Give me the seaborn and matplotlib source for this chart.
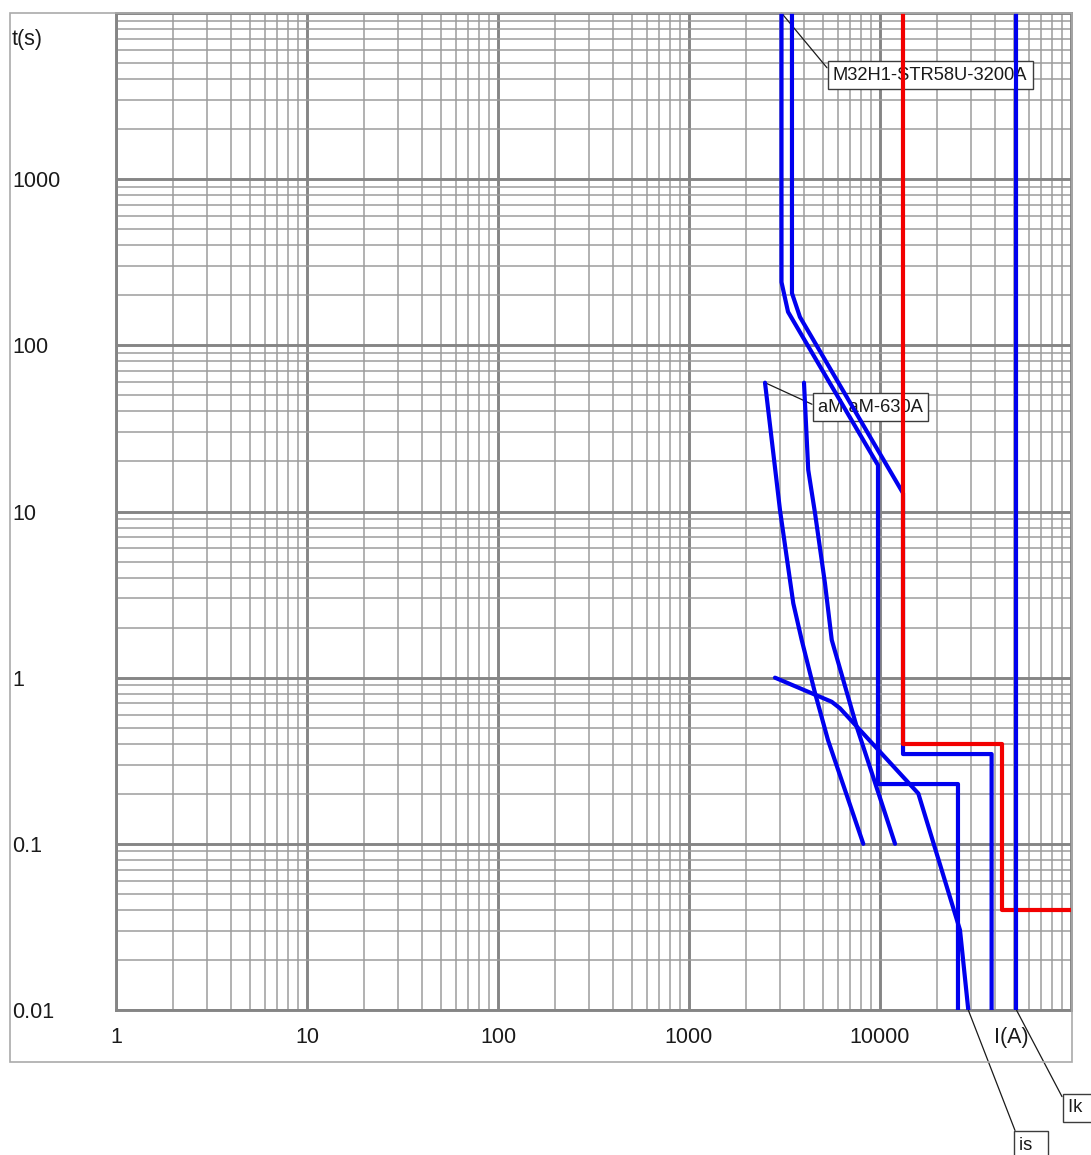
import numpy as np
import matplotlib
matplotlib.use("Agg")
import matplotlib.pyplot as plt
import seaborn as sns
from matplotlib.ticker import LogLocator, FixedLocator, FixedFormatter, NullFormatter
from matplotlib.patches import Rectangle

# ---------------- data (current I in A, time t in s) ----------------
breaker_lo_I = [3050, 3050, 3300, 9760, 9760, 25600, 25600]
breaker_lo_t = [10000, 240, 159, 19.0, 0.229, 0.229, 0.01]

breaker_hi_I = [3460, 3460, 3810, 13200, 13200, 38400, 38400]
breaker_hi_t = [10000, 206, 148, 12.9, 0.347, 0.347, 0.01]

fuse_lo_I = [2500, 2995, 3516, 3891, 4568, 5342, 8176]
fuse_lo_t = [59.6, 10.2, 2.80, 1.685, 0.809, 0.421, 0.100]

fuse_hi_I = [4000, 4210, 4570, 5150, 5590, 7550, 11990]
fuse_hi_t = [59.6, 17.8, 9.75, 3.70, 1.685, 0.507, 0.100]

is_I = [2820, 5585, 6175, 15870, 26230, 28990]
is_t = [1.0, 0.716, 0.654, 0.201, 0.0303, 0.01]

red_I = [13120, 13120, 43400, 43400, 100000]
red_t = [10000, 0.40, 0.40, 0.040, 0.040]

ik_I = [51800, 51800]
ik_t = [0.01, 10000]

x_ticks = [1, 10, 100, 1000, 10000]
x_labels = ["1", "10", "100", "1000", "10000"]
y_ticks = [0.01, 0.1, 1, 10, 100, 1000]
y_labels = ["0.01", "0.1", "1", "10", "100", "1000"]

# ---------------- style ----------------
sns.set_theme(style="white")
plt.rcParams["font.family"] = ["Liberation Sans", "DejaVu Sans"]

BLUE = "#0000ee"
RED = "#f20000"
MAJ = "#858585"
MIN = "#9c9c9c"
TXT = "#1a1a1a"
FS = 15.5

W, H = 1091, 1155
fig = plt.figure(figsize=(W / 100, H / 100), dpi=100)
fig.patch.set_facecolor("white")
ax = fig.add_axes([116 / W, 1 - 1010 / H, (1071 - 116) / W, (1010 - 13) / H])

# outer frame
fig.patches.append(Rectangle((10 / W, 1 - 1062 / H), (1072 - 10) / W, (1062 - 13) / H,
                             transform=fig.transFigure, fill=False, ec="#aaaaaa", lw=1.2, zorder=0))

ax.set_xscale("log")
ax.set_yscale("log")
ax.set_xlim(1, 1e5)
ax.set_ylim(0.01, 1e4)

ax.xaxis.set_major_locator(FixedLocator(x_ticks))
ax.xaxis.set_major_formatter(FixedFormatter(x_labels))
ax.yaxis.set_major_locator(FixedLocator(y_ticks))
ax.yaxis.set_major_formatter(FixedFormatter(y_labels))
ax.xaxis.set_minor_locator(LogLocator(base=10, subs=np.arange(2, 10), numticks=30))
ax.yaxis.set_minor_locator(LogLocator(base=10, subs=np.arange(2, 10), numticks=30))
ax.xaxis.set_minor_formatter(NullFormatter())
ax.yaxis.set_minor_formatter(NullFormatter())

ax.set_axisbelow(True)
ax.grid(which="major", color=MAJ, lw=2.1)
ax.grid(which="minor", color=MIN, lw=1.1)
for s in ax.spines.values():
    s.set_color(MAJ)
    s.set_linewidth(2.1)

ax.tick_params(which="both", length=0)
ax.tick_params(axis="x", pad=12, labelsize=FS, labelcolor=TXT)
ax.tick_params(axis="y", pad=74.9, labelsize=FS, labelcolor=TXT)
for lab in ax.get_yticklabels():
    lab.set_horizontalalignment("left")

# ---------------- curves ----------------
def draw(I, t, color, z):
    sns.lineplot(x=I, y=t, sort=False, estimator=None, color=color, lw=3.0,
                 ax=ax, legend=False, zorder=z)

draw(breaker_lo_I, breaker_lo_t, BLUE, 5)
draw(breaker_hi_I, breaker_hi_t, BLUE, 5)
draw(fuse_lo_I, fuse_lo_t, BLUE, 5)
draw(fuse_hi_I, fuse_hi_t, BLUE, 5)
draw(is_I, is_t, BLUE, 5)
draw(red_I, red_t, RED, 6)
draw(ik_I, ik_t, BLUE, 7)

ax.set_xlabel("")
ax.set_ylabel("")

# ---------------- labels ----------------
fig.text(12 / W, 1 - 39 / H, "t(s)", ha="left", va="center", fontsize=FS, color=TXT)
ax.annotate("I(A)", xy=(48500, 0.01), xycoords="data", xytext=(0, -12),
            textcoords="offset points", ha="center", va="top", fontsize=FS, color=TXT,
            annotation_clip=False)

box = dict(boxstyle="square,pad=0.3", fc="white", ec="#3c3c3c", lw=1.0)


def leader(text, xy, px, py, rel=(0, 0.5)):
    ax.annotate(text, xy=xy, xycoords="data", xytext=(px, H - py), textcoords="figure pixels",
                ha="left", va="center", fontsize=13.2, color=TXT, bbox=box, zorder=4,
                annotation_clip=False,
                arrowprops=dict(arrowstyle="-", color="#1a1a1a", lw=0.9, relpos=rel,
                                shrinkA=0, shrinkB=0))


leader("M32H1-STR58U-3200A", (breaker_lo_I[0], breaker_lo_t[0]), 833, 75)
leader("aM aM-630A", (fuse_lo_I[0], fuse_lo_t[0]), 818, 407)
leader("Ik  ", (ik_I[0], ik_t[0]), 1068, 1108)
leader("is  ", (is_I[-1], is_t[-1]), 1019, 1145, rel=(0, 0.75))

fig.savefig("out.png", dpi=100, facecolor="white")
